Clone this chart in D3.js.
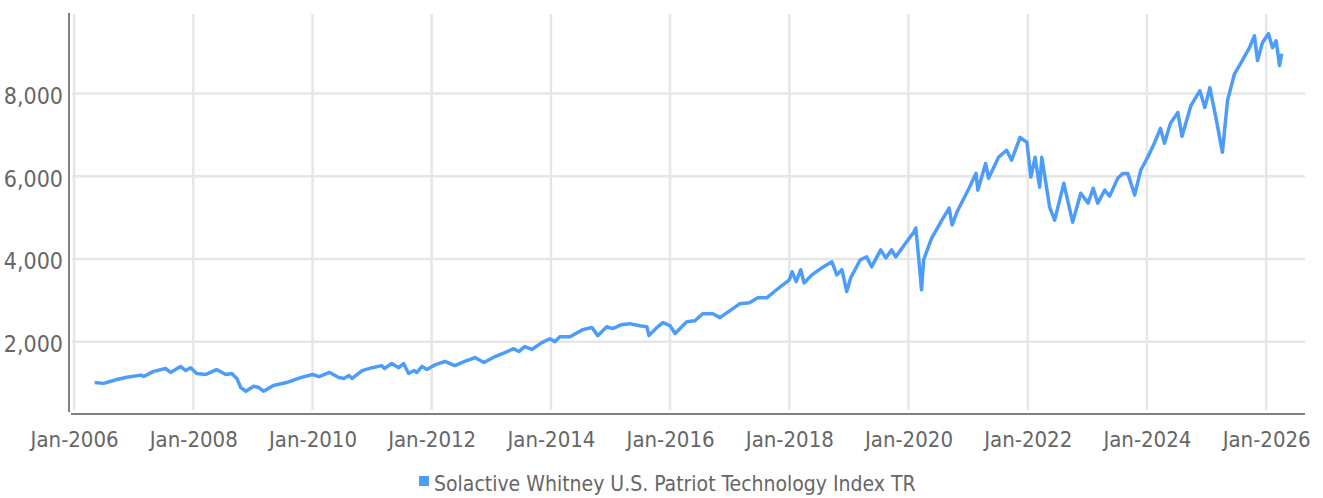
<!DOCTYPE html>
<html>
<head>
<meta charset="utf-8">
<script src="https://cdn.jsdelivr.net/npm/d3@7"></script>
<style>
  body { margin: 0; background: #fff; }
  svg { display: block; }
  text { font-family: "Liberation Sans Narrow", "DejaVu Sans Condensed", sans-serif; }
</style>
</head>
<body>
<div id="chart"></div>
<script>
// Series
const seriesName = "Solactive Whitney U.S. Patriot Technology Index TR";

const dates = [
  "2006-05-07","2006-07-01","2006-09-20","2006-11-20","2007-02-15","2007-03-03","2007-05-03","2007-07-15",
  "2007-08-15","2007-10-15","2007-11-16","2007-12-16","2008-01-22","2008-03-17","2008-05-23","2008-07-18",
  "2008-08-24","2008-09-24","2008-10-18","2008-11-18","2009-01-06","2009-02-06","2009-03-07","2009-05-06",
  "2009-07-26","2009-10-20","2010-01-01","2010-02-10","2010-04-16","2010-06-11","2010-07-12","2010-08-12",
  "2010-09-01","2010-11-01","2011-01-01","2011-03-01","2011-03-18","2011-05-01","2011-06-13","2011-07-13",
  "2011-08-13","2011-09-15","2011-10-03","2011-11-03","2011-12-03","2012-01-25","2012-03-22","2012-05-22",
  "2012-07-22","2012-09-22","2012-11-16","2013-01-24","2013-03-24","2013-05-18","2013-06-18","2013-07-24",
  "2013-09-06","2013-11-06","2013-12-25","2014-01-25","2014-02-25","2014-04-28","2014-07-15","2014-09-09",
  "2014-10-15","2014-12-09","2015-01-15","2015-03-09","2015-04-28","2015-06-28","2015-08-12","2015-08-25",
  "2015-10-12","2015-11-18","2016-01-01","2016-02-01","2016-04-12","2016-06-01","2016-07-19","2016-09-19",
  "2016-11-02","2017-01-02","2017-03-02","2017-05-02","2017-06-22","2017-08-15","2017-10-15","2018-01-01",
  "2018-01-18","2018-02-12","2018-03-12","2018-04-01","2018-05-19","2018-07-19","2018-09-19","2018-10-19",
  "2018-11-19","2018-12-19","2019-01-12","2019-03-12","2019-04-20","2019-05-20","2019-07-15","2019-08-15",
  "2019-09-20","2019-10-15","2019-12-15","2020-02-03","2020-02-15","2020-03-03","2020-03-21","2020-04-03",
  "2020-05-22","2020-07-24","2020-09-06","2020-09-24","2020-10-24","2021-01-06","2021-02-18","2021-03-01",
  "2021-04-18","2021-05-06","2021-07-06","2021-08-24","2021-09-24","2021-11-15","2021-12-27","2022-01-20",
  "2022-02-15","2022-03-15","2022-03-28","2022-05-15","2022-06-15","2022-08-10","2022-10-03","2022-11-22",
  "2023-01-06","2023-02-06","2023-03-06","2023-04-18","2023-05-18","2023-07-06","2023-08-06","2023-09-06",
  "2023-10-18","2023-11-24","2024-01-06","2024-02-18","2024-03-24","2024-04-18","2024-05-24","2024-07-09",
  "2024-08-03","2024-09-27","2024-11-21","2024-12-21","2025-01-21","2025-02-27","2025-04-08","2025-05-09",
  "2025-06-21","2025-07-27","2025-09-21","2025-10-21","2025-11-09","2025-12-09","2026-01-15","2026-02-09",
  "2026-03-03","2026-03-24","2026-04-06"
];

const values = [
  1012, 990, 1085, 1140, 1190, 1155, 1280, 1350,
  1255, 1400, 1300, 1370, 1230, 1205, 1325, 1205,
  1230, 1110, 890, 800, 920, 890, 800, 940,
  1010, 1130, 1205, 1155, 1255, 1130, 1110, 1180,
  1110, 1300, 1370, 1420, 1350, 1470, 1370, 1470,
  1230, 1300, 1255, 1400, 1325, 1445, 1520, 1420,
  1520, 1615, 1495, 1640, 1735, 1830, 1760, 1880,
  1810, 1975, 2070, 2000, 2120, 2120, 2290, 2340,
  2145, 2360, 2315, 2410, 2435, 2385, 2360, 2145,
  2340, 2460, 2385, 2195, 2480, 2505, 2675, 2675,
  2580, 2750, 2915, 2940, 3060, 3060, 3255, 3495,
  3690, 3450, 3740, 3420, 3615, 3785, 3930, 3615,
  3740, 3210, 3545, 3980, 4050, 3810, 4220, 4025,
  4220, 4050, 4385, 4650, 4750, 4050, 3255, 3980,
  4505, 4940, 5230, 4820, 5135, 5710, 6070, 5665,
  6310, 5950, 6460, 6630, 6390, 6940, 6820, 5980,
  6460, 5735, 6460, 5255, 4940, 5830, 4890, 5590,
  5350, 5710, 5350, 5665, 5520, 5950, 6070, 6070,
  5545, 6145, 6460, 6820, 7160, 6800, 7280, 7545,
  6965, 7710, 8070, 7665, 8145, 7420, 6580, 7830,
  8480, 8720, 9110, 9400, 8800, 9230, 9450, 9110,
  9280, 8680, 8965
];

const xTickYears = [2006, 2008, 2010, 2012, 2014, 2016, 2018, 2020, 2022, 2024, 2026];
const yTickValues = [2000, 4000, 6000, 8000];

const width = 1323;
const height = 498;
const plot = { left: 72, right: 1305, top: 14, bottom: 410 };

const parse = d3.timeParse("%Y-%m-%d");
const data = dates.map((d, i) => ({ date: parse(d), value: values[i] }));

const svg = d3.select("#chart")
  .append("svg")
  .attr("width", width)
  .attr("height", height);

// Scales
const x = d3.scaleTime()
  .domain([new Date(2005, 11, 19), new Date(2026, 7, 27)])
  .range([plot.left, plot.right]);

const y = d3.scaleLinear()
  .domain([346, 9926])
  .range([plot.bottom, plot.top]);

const xTicks = xTickYears.map(yr => new Date(yr, 0, 1));

// Gridlines
svg.append("g")
  .selectAll("line")
  .data(xTicks)
  .join("line")
  .attr("x1", d => x(d))
  .attr("x2", d => x(d))
  .attr("y1", plot.top)
  .attr("y2", plot.bottom)
  .style("stroke", "#e6e6e6")
  .style("stroke-width", 2.5);

svg.append("g")
  .selectAll("line")
  .data(yTickValues)
  .join("line")
  .attr("x1", plot.left)
  .attr("x2", plot.right)
  .attr("y1", d => y(d))
  .attr("y2", d => y(d))
  .style("stroke", "#e6e6e6")
  .style("stroke-width", 2.5);

// Axis lines (offset a few px from the plot area)
svg.append("line")
  .attr("x1", plot.left - 3).attr("x2", plot.left - 3)
  .attr("y1", plot.top - 1).attr("y2", plot.bottom + 2)
  .style("stroke", "#808080")
  .style("stroke-width", 2);

svg.append("line")
  .attr("x1", plot.left - 1).attr("x2", plot.right)
  .attr("y1", plot.bottom + 4).attr("y2", plot.bottom + 4)
  .style("stroke", "#808080")
  .style("stroke-width", 2);

// Axis labels
const xAxis = svg.append("g")
  .attr("transform", `translate(0,${plot.bottom + 5})`)
  .call(d3.axisBottom(x).tickValues(xTicks).tickFormat(d3.timeFormat("%b-%Y")).tickSize(0));
xAxis.select(".domain").remove();
xAxis.selectAll("text")
  .attr("y", 0)
  .attr("dy", "32px")
  .style("font-size", "22px")
  .style("fill", "#666");

const yAxis = svg.append("g")
  .attr("transform", `translate(${plot.left - 9},0)`)
  .call(d3.axisLeft(y).tickValues(yTickValues).tickFormat(d3.format(",")).tickSize(0));
yAxis.select(".domain").remove();
yAxis.selectAll("text")
  .attr("x", 0)
  .attr("dy", "10px")
  .style("font-size", "23px")
  .style("fill", "#666");

// Series line
const line = d3.line()
  .x(d => x(d.date))
  .y(d => y(d.value));

svg.append("path")
  .datum(data)
  .attr("d", line)
  .style("fill", "none")
  .style("stroke", "#4e9cf9")
  .style("stroke-width", 3.5)
  .style("stroke-linejoin", "round");

// Legend
const legend = svg.append("g");
legend.append("rect")
  .attr("width", 10)
  .attr("height", 10)
  .attr("y", -15)
  .style("fill", "#4e9cf9");
const legendText = legend.append("text")
  .attr("x", 15)
  .text(seriesName)
  .style("font-size", "21px")
  .style("fill", "#666");
const legendWidth = 15 + legendText.node().getComputedTextLength();
legend.attr("transform", `translate(${Math.round(667 - legendWidth / 2)},491)`);
</script>
</body>
</html>
